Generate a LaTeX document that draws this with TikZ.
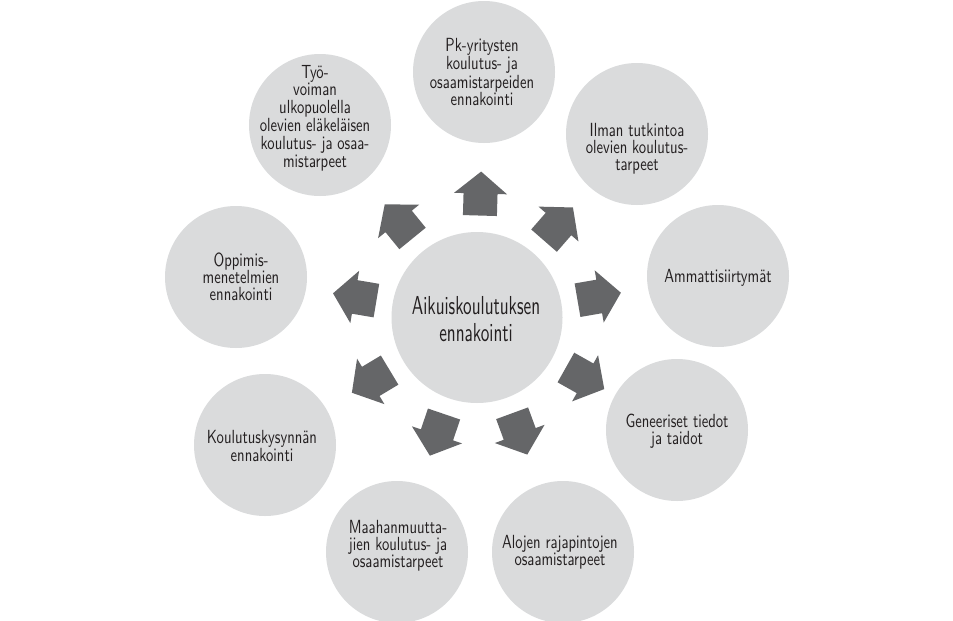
\documentclass[tikz,border=0pt]{standalone}
\usepackage{fontspec}
\usetikzlibrary{calc}
\newfontfamily\outerfont{lmsans10-regular.otf}[FakeStretch=0.77]
\newfontfamily\hubfont{lmsans10-regular.otf}[FakeStretch=0.66]
\definecolor{circfill}{HTML}{DADBDC}
\definecolor{arrowfill}{HTML}{656668}
\definecolor{txtcol}{HTML}{231F20}
\tikzset{
  topic/.style={circle, fill=circfill, minimum size=142pt, inner sep=0pt},
  hubcircle/.style={circle, fill=circfill, minimum size=171pt, inner sep=0pt},
  topictext/.style={align=center, text=txtcol, inner sep=0pt,
    font=\outerfont\fontsize{19}{17}\selectfont},
  looseleading/.style={font=\outerfont\fontsize{19}{17.8}\selectfont},
  hubtext/.style={align=center, text=txtcol, inner sep=0pt,
    font=\hubfont\fontsize{26}{27}\selectfont},
  blockarrow/.style={fill=arrowfill}
}
\newcommand\outarrow[2]{%
  \coordinate (#1) at ($(hub)!124pt!(#2)$);
  \coordinate (#1q) at ($(#1)!22pt!180:(#2)$);
  \fill[blockarrow] ($(#1q)!17pt!90:(#2)$) -- ($(#1)!17pt!90:(#2)$)
    -- ($(#1)!26.5pt!90:(#2)$) -- ($(#1)!22pt!(#2)$)
    -- ($(#1)!26.5pt!-90:(#2)$) -- ($(#1)!17pt!-90:(#2)$)
    -- ($(#1q)!17pt!-90:(#2)$) -- cycle;}
\begin{document}
\begin{tikzpicture}[x=1pt,y=-1pt]
\useasboundingbox (0,0) rectangle (953,621);
\fill[white] (0,0) rectangle (953,621);
% circles
\node[hubcircle] (hub) at (477,317.5) {};
\node[topic] (c1) at (484,72) {};
\node[topic] (c2) at (637,134) {};
\node[topic] (c3) at (718,276) {};
\node[topic] (c4) at (677,430) {};
\node[topic] (c5) at (563,552) {};
\node[topic] (c6) at (397,552) {};
\node[topic] (c7) at (265,445) {};
\node[topic] (c8) at (236,277) {};
\node[topic] (c9) at (320,125) {};
% texts
\node[hubtext] (thub) at (476,319) {Aikuiskoulutuksen\\ennakointi};
\node[topictext] (t1) at (482,72) {Pk-yritysten\\koulutus- ja\\osaamistarpeiden\\ennakointi};
\node[topictext] (t2) at (637,149) {Ilman tutkintoa\\olevien koulutus-\\tarpeet};
\node[topictext] (t3) at (718,278) {Ammattisiirtymät};
\node[topictext] (t4) at (677,431) {Geneeriset tiedot\\ja taidot};
\node[topictext] (t5) at (560,552) {Alojen rajapintojen\\osaamistarpeet};
\node[topictext] (t6) at (398,546) {Maahanmuutta-\\jien koulutus- ja\\osaamistarpeet};
\node[topictext] (t7) at (262,446) {Koulutuskysynnän\\ennakointi};
\node[topictext] (t8) at (241,277) {Oppimis-\\menetelmien\\ennakointi};
\node[topictext,looseleading] (t9) at (315,118) {Työ-\\voiman\\ulkopuolella\\olevien eläkeläisen\\koulutus- ja osaa-\\mistarpeet};
% arrows
\outarrow{a1}{c1}
\outarrow{a2}{c2}
\outarrow{a3}{c3}
\outarrow{a4}{c4}
\outarrow{a5}{c5}
\outarrow{a6}{c6}
\outarrow{a7}{c7}
\outarrow{a8}{c8}
\outarrow{a9}{c9}
\end{tikzpicture}
\end{document}
